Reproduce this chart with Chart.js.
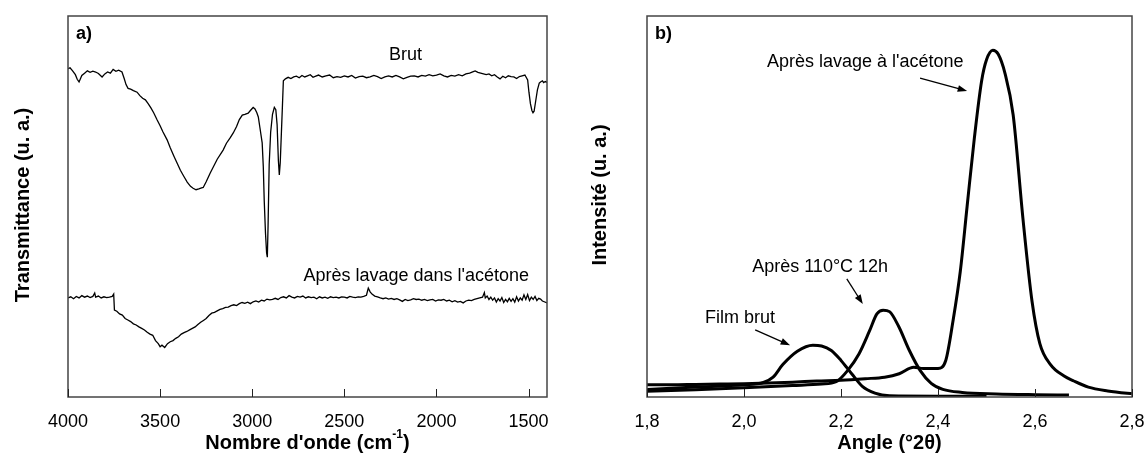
<!DOCTYPE html>
<html>
<head>
<meta charset="utf-8">
<script src="https://cdn.jsdelivr.net/npm/chart.js@4.4.1/dist/chart.umd.min.js"></script>
<style>
  html, body { margin: 0; padding: 0; background: #fff; }
  #wrap { position: relative; width: 1145px; height: 461px; }
  canvas { position: absolute; top: 0; }
  #irChart { left: 0; }
  #xrdChart { left: 580px; }
</style>
</head>
<body>
<div id="wrap">
  <canvas id="irChart" width="580" height="461"></canvas>
  <canvas id="xrdChart" width="565" height="461"></canvas>
</div>
<script>
// ---- a) IR spectra : wavenumber (cm-1) / transmittance (arbitrary units)
const irTicks = [4000, 3500, 3000, 2500, 2000, 1500];

const brutWave = [4000, 3989, 3975, 3960, 3950, 3940, 3925, 3910, 3895, 3880, 3865, 3850, 3835, 3815, 3800, 3785, 3770, 3755, 3740, 3725, 3707, 3695, 3685, 3674, 3660, 3645, 3625, 3610, 3595, 3580, 3565, 3550, 3535, 3516, 3500, 3485, 3462, 3445, 3425, 3408, 3390, 3370, 3353, 3335, 3321, 3305, 3290, 3275, 3266, 3250, 3228, 3210, 3190, 3158, 3140, 3120, 3103, 3085, 3070, 3054, 3040, 3022, 3010, 2995, 2985, 2975, 2967, 2958, 2946, 2940, 2935, 2928, 2922, 2918, 2914, 2908, 2900, 2890, 2880, 2872, 2865, 2858, 2853, 2848, 2842, 2836, 2831, 2820, 2805, 2790, 2775, 2760, 2745, 2730, 2715, 2700, 2685, 2670, 2655, 2640, 2620, 2600, 2580, 2560, 2540, 2520, 2500, 2480, 2460, 2440, 2420, 2400, 2380, 2360, 2340, 2320, 2300, 2280, 2260, 2240, 2220, 2200, 2180, 2160, 2140, 2120, 2100, 2080, 2060, 2040, 2020, 2000, 1980, 1960, 1940, 1920, 1900, 1880, 1860, 1840, 1820, 1800, 1790, 1775, 1760, 1745, 1730, 1715, 1700, 1685, 1670, 1655, 1640, 1625, 1610, 1595, 1580, 1565, 1550, 1535, 1520, 1505, 1498, 1490, 1482, 1476, 1470, 1462, 1452, 1442, 1435, 1425, 1418, 1410, 1400];
const brutT = [86.2, 86.4, 85.6, 84.6, 83.4, 82.7, 84.4, 85.0, 85.6, 85.2, 85.5, 85.3, 84.9, 84.0, 84.8, 85.3, 85.0, 86.0, 85.5, 85.8, 85.3, 83.6, 82.0, 81.0, 80.8, 80.4, 80.0, 79.1, 78.4, 78.0, 77.0, 75.9, 74.6, 72.7, 71.2, 69.6, 67.5, 65.4, 63.2, 61.4, 59.5, 57.8, 56.4, 55.3, 54.8, 54.4, 54.6, 54.9, 55.0, 56.5, 58.8, 60.5, 62.4, 64.8, 66.6, 68.0, 69.3, 71.0, 72.8, 74.0, 74.2, 74.5, 75.2, 76.0, 75.6, 74.6, 73.5, 70.6, 66.7, 60.5, 51.7, 43.0, 37.8, 36.7, 45.0, 61.0, 69.5, 74.2, 76.0, 75.4, 71.5, 62.0, 58.3, 61.5, 69.0, 76.5, 83.0, 83.5, 83.9, 83.6, 84.0, 84.2, 83.8, 84.4, 84.0, 84.3, 84.6, 83.9, 84.2, 84.5, 84.0, 84.3, 84.5, 83.8, 84.1, 83.9, 84.3, 84.0, 84.4, 83.7, 84.1, 84.2, 83.8, 84.0, 84.4, 84.1, 83.6, 84.0, 84.3, 84.0, 84.4, 84.0, 83.5, 83.9, 84.2, 84.3, 84.0, 84.4, 84.2, 84.6, 84.3, 84.5, 84.8, 84.3, 84.0, 84.4, 84.2, 84.6, 84.3, 84.8, 85.0, 85.4, 85.6, 85.2, 85.0, 84.8, 84.6, 84.8, 84.3, 84.6, 84.0, 83.5, 84.2, 83.8, 84.3, 84.1, 84.0, 83.6, 84.1, 84.3, 84.5, 83.2, 80.0, 77.0, 75.2, 74.6, 75.0, 77.5, 80.6, 82.4, 82.7, 83.0, 82.5, 82.8, 82.6];

const lavageWave = [4000, 3985, 3970, 3955, 3940, 3925, 3910, 3895, 3880, 3865, 3855, 3850, 3835, 3820, 3805, 3790, 3775, 3760, 3752, 3748, 3735, 3720, 3705, 3690, 3675, 3660, 3645, 3630, 3615, 3600, 3585, 3570, 3555, 3540, 3525, 3510, 3500, 3490, 3475, 3460, 3445, 3430, 3415, 3400, 3385, 3370, 3355, 3340, 3325, 3310, 3295, 3280, 3265, 3250, 3235, 3220, 3205, 3190, 3175, 3160, 3145, 3130, 3115, 3100, 3085, 3070, 3055, 3040, 3025, 3010, 2995, 2980, 2965, 2950, 2935, 2920, 2905, 2890, 2875, 2860, 2845, 2830, 2815, 2800, 2785, 2770, 2755, 2740, 2725, 2710, 2695, 2680, 2665, 2650, 2635, 2620, 2605, 2590, 2575, 2560, 2545, 2530, 2515, 2500, 2485, 2470, 2455, 2440, 2425, 2410, 2395, 2380, 2370, 2360, 2350, 2335, 2320, 2305, 2290, 2275, 2260, 2245, 2230, 2215, 2200, 2185, 2170, 2155, 2140, 2125, 2110, 2095, 2080, 2065, 2050, 2035, 2020, 2005, 1990, 1975, 1960, 1945, 1930, 1915, 1900, 1885, 1870, 1855, 1840, 1825, 1810, 1795, 1780, 1765, 1750, 1740, 1735, 1725, 1715, 1705, 1695, 1685, 1675, 1665, 1655, 1645, 1635, 1625, 1615, 1605, 1595, 1585, 1575, 1565, 1555, 1545, 1535, 1525, 1515, 1505, 1495, 1485, 1475, 1465, 1455, 1445, 1435, 1425, 1415, 1400];
const lavageT = [26.0, 26.3, 25.8, 26.4, 26.0, 26.6, 26.2, 26.5, 26.1, 26.4, 27.3, 26.2, 26.5, 26.0, 26.3, 26.1, 26.2, 26.4, 27.0, 22.8, 22.5, 21.8, 21.5, 20.6, 20.2, 19.8, 19.2, 18.9, 18.4, 18.0, 17.6, 17.0, 16.5, 16.2, 14.8, 14.0, 13.2, 13.6, 13.0, 14.0, 14.5, 14.8, 15.4, 15.8, 16.5, 16.9, 17.2, 17.6, 18.0, 18.4, 19.0, 19.6, 20.1, 20.6, 21.4, 22.0, 22.2, 22.6, 23.0, 23.2, 23.5, 23.6, 24.0, 24.2, 24.0, 24.5, 24.8, 24.6, 24.9, 24.5, 25.0, 25.2, 24.9, 25.4, 25.2, 25.7, 25.5, 25.6, 25.9, 25.6, 26.1, 26.3, 26.0, 26.6, 26.2, 26.0, 26.4, 26.2, 26.5, 26.0, 26.3, 26.1, 26.2, 25.8, 26.3, 26.0, 26.2, 25.9, 26.3, 26.1, 26.2, 26.0, 26.3, 26.2, 26.0, 26.4, 26.2, 26.1, 26.3, 26.2, 26.4, 26.7, 28.6, 27.6, 27.0, 26.5, 26.3, 26.0, 25.8, 26.0, 25.7, 25.9, 25.6, 25.8, 25.5, 25.1, 25.6, 25.3, 25.5, 25.8, 25.6, 25.7, 25.4, 25.6, 25.3, 25.5, 25.6, 25.2, 25.5, 25.4, 25.6, 25.2, 25.4, 25.0, 25.3, 24.9, 25.1, 24.7, 25.2, 25.4, 25.3, 25.6, 25.8, 26.0, 26.2, 27.4, 26.0, 26.5, 25.6, 26.2, 25.4, 26.0, 24.9, 25.8, 25.2, 26.1, 24.8, 25.6, 25.0, 25.9, 25.1, 25.8, 24.9, 26.3, 25.2, 26.0, 25.4, 26.8, 25.6, 26.9, 25.3, 26.2, 25.6, 26.4, 25.3, 25.9, 25.7, 25.2, 25.0, 24.7];

// ---- b) XRD patterns : angle (°2θ) / intensity (arbitrary units)
const xrdTicks = [1.8, 2.0, 2.2, 2.4, 2.6, 2.8];

const filmAngle = [1.80, 1.90, 2.00, 2.04, 2.06, 2.08, 2.11, 2.142, 2.16, 2.18, 2.20, 2.222, 2.244, 2.27, 2.30, 2.40, 2.50];
const filmI = [2.0, 2.6, 3.2, 3.8, 5.2, 8.5, 12.0, 13.6, 13.4, 12.2, 9.6, 6.1, 2.8, 1.0, 0.3, 0.2, 0.2];

const recuitAngle = [1.80, 1.90, 2.00, 2.10, 2.16, 2.19, 2.214, 2.237, 2.259, 2.274, 2.287, 2.30, 2.319, 2.341, 2.363, 2.386, 2.41, 2.45, 2.52, 2.60, 2.67];
const recuitI = [1.5, 1.9, 2.4, 3.0, 3.4, 4.0, 7.0, 11.3, 17.4, 21.8, 22.8, 22.4, 18.5, 12.2, 7.0, 3.6, 2.0, 1.2, 0.8, 0.6, 0.5];

const acetoneAngle = [1.80, 1.85, 1.90, 1.95, 2.00, 2.05, 2.10, 2.15, 2.20, 2.25, 2.29, 2.32, 2.35, 2.37, 2.40, 2.416, 2.431, 2.446, 2.46, 2.475, 2.49, 2.50, 2.513, 2.524, 2.538, 2.555, 2.575, 2.594, 2.61, 2.632, 2.66, 2.68, 2.71, 2.75, 2.79, 2.80];
const acetoneI = [3.2, 3.2, 3.3, 3.4, 3.5, 3.7, 3.9, 4.2, 4.4, 4.8, 5.2, 6.1, 7.8, 7.5, 7.5, 9.6, 20, 33, 50, 68, 83, 88.5, 91, 90, 85, 74, 47, 25, 14, 8.5, 5.5, 4.2, 2.6, 1.6, 1.0, 0.9];

const toPts = (xs, ys) => xs.map((x, i) => ({ x, y: ys[i] }));

// cadre, graduations internes, titres et annotations
const deco = {
  id: 'deco',
  afterDraw(chart, args, o) {
    const { ctx, chartArea: a, scales: { x, y } } = chart;
    ctx.save();
    ctx.strokeStyle = '#444';
    ctx.lineWidth = 1.5;
    ctx.strokeRect(a.left, a.top, a.right - a.left, a.bottom - a.top);

    ctx.strokeStyle = '#222';
    ctx.lineWidth = 1;
    x.ticks.forEach(t => {
      const px = Math.round(x.getPixelForValue(t.value)) + 0.5;
      ctx.beginPath();
      ctx.moveTo(px, a.bottom);
      ctx.lineTo(px, a.bottom - 8);
      ctx.stroke();
    });

    ctx.fillStyle = '#000';
    ctx.textBaseline = 'middle';
    ctx.font = 'bold 18px "Liberation Sans"';
    ctx.textAlign = 'left';
    ctx.fillText(o.tag, a.left + 8, a.top + 18);

    ctx.font = '18px "Liberation Sans"';
    ctx.textAlign = 'center';
    o.labels.forEach(l => ctx.fillText(l.text, x.getPixelForValue(l.x), y.getPixelForValue(l.y)));

    o.arrows.forEach(ar => {
      const x1 = x.getPixelForValue(ar.from[0]), y1 = y.getPixelForValue(ar.from[1]);
      const x2 = x.getPixelForValue(ar.to[0]), y2 = y.getPixelForValue(ar.to[1]);
      const ang = Math.atan2(y2 - y1, x2 - x1);
      ctx.strokeStyle = '#000';
      ctx.lineWidth = 1.3;
      ctx.beginPath();
      ctx.moveTo(x1, y1);
      ctx.lineTo(x2 - 6 * Math.cos(ang), y2 - 6 * Math.sin(ang));
      ctx.stroke();
      ctx.beginPath();
      ctx.moveTo(x2, y2);
      ctx.lineTo(x2 - 10 * Math.cos(ang - 0.35), y2 - 10 * Math.sin(ang - 0.35));
      ctx.lineTo(x2 - 10 * Math.cos(ang + 0.35), y2 - 10 * Math.sin(ang + 0.35));
      ctx.closePath();
      ctx.fill();
    });

    // titre axe x (avec exposant éventuel)
    const cx = (a.left + a.right) / 2, ty = 443;
    const big = 'bold 20px "Liberation Sans"', small = 'bold 12px "Liberation Sans"';
    ctx.textAlign = 'left';
    ctx.font = big;
    const w1 = ctx.measureText(o.xTitle[0]).width, w3 = ctx.measureText(o.xTitle[2]).width;
    ctx.font = small;
    const w2 = ctx.measureText(o.xTitle[1]).width;
    let sx = cx - (w1 + w2 + w3) / 2;
    ctx.font = big;
    ctx.fillText(o.xTitle[0], sx, ty);
    ctx.font = small;
    ctx.fillText(o.xTitle[1], sx + w1, ty - 8);
    ctx.font = big;
    ctx.fillText(o.xTitle[2], sx + w1 + w2, ty);

    // titre axe y
    ctx.translate(o.yTitleX, o.yTitleY);
    ctx.rotate(-Math.PI / 2);
    ctx.textAlign = 'center';
    ctx.fillText(o.yTitle, 0, 0);
    ctx.restore();
  }
};

function makeChart(id, datasets, xOpts, pad, decoOpts, lineW, tension) {
  return new Chart(document.getElementById(id), {
    type: 'line',
    data: { datasets },
    plugins: [deco],
    options: {
      responsive: false,
      animation: false,
      devicePixelRatio: 1,
      layout: { padding: pad },
      elements: {
        point: { radius: 0 },
        line: { borderColor: '#000', borderWidth: lineW, tension: tension, cubicInterpolationMode: tension ? 'monotone' : 'default' }
      },
      plugins: { legend: { display: false }, tooltip: { enabled: false }, deco: decoOpts },
      scales: {
        x: Object.assign({
          type: 'linear',
          grid: { display: false, drawTicks: false },
          border: { display: false },
          afterFit: s => { s.height = 64; s.paddingLeft = 0; s.paddingRight = 0; }
        }, xOpts),
        y: { display: false, min: 0, max: 100 }
      }
    }
  });
}

Chart.defaults.font.family = '"Liberation Sans", Arial, sans-serif';
Chart.defaults.color = '#000';

makeChart('irChart', [
  { data: toPts(brutWave, brutT) },
  { data: toPts(lavageWave, lavageT) }
], {
  reverse: true, min: 1400, max: 4000,
  afterBuildTicks: s => { s.ticks = irTicks.map(v => ({ value: v })); },
  ticks: { font: { size: 18 }, padding: 14, maxRotation: 0, callback: v => String(v) }
}, { left: 68, top: 16, right: 33, bottom: 0 }, {
  tag: 'a)',
  labels: [
    { text: 'Brut', x: 2168, y: 89.8 },
    { text: "Après lavage dans l'acétone", x: 2110, y: 31.8 }
  ],
  arrows: [],
  xTitle: ["Nombre d'onde (cm", '-1', ')'],
  yTitle: 'Transmittance (u. a.)',
  yTitleX: 23, yTitleY: 205
}, 1.3, 0);

makeChart('xrdChart', [
  { data: toPts(filmAngle, filmI) },
  { data: toPts(recuitAngle, recuitI) },
  { data: toPts(acetoneAngle, acetoneI) }
], {
  min: 1.8, max: 2.8,
  afterBuildTicks: s => { s.ticks = xrdTicks.map(v => ({ value: v })); },
  ticks: { font: { size: 18 }, padding: 14, maxRotation: 0, callback: v => v.toFixed(1).replace('.', ',') }
}, { left: 67, top: 16, right: 13, bottom: 0 }, {
  tag: 'b)',
  labels: [
    { text: "Après lavage à l'acétone", x: 2.25, y: 87.9 },
    { text: 'Après 110°C 12h', x: 2.157, y: 34.1 },
    { text: 'Film brut', x: 1.992, y: 20.7 }
  ],
  arrows: [
    { from: [2.363, 83.7], to: [2.46, 80.3] },
    { from: [2.212, 31.0], to: [2.245, 24.4] },
    { from: [2.023, 17.6], to: [2.095, 13.6] }
  ],
  xTitle: ['Angle (°2θ)', '', ''],
  yTitle: 'Intensité (u. a.)',
  yTitleX: 20, yTitleY: 195
}, 3, 0.3);
</script>
</body>
</html>
